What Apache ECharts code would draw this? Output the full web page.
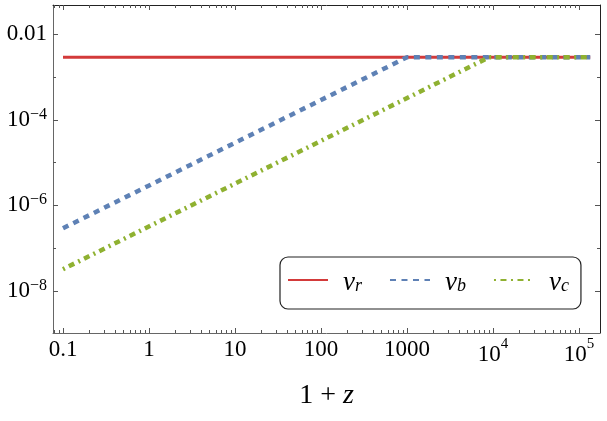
<!DOCTYPE html>
<html><head><meta charset="utf-8">
<script src="https://cdn.jsdelivr.net/npm/echarts@6/dist/echarts.min.js"></script>
<style>html,body{margin:0;padding:0;background:#fff}#c{width:607px;height:421px}</style>
</head><body><div id="c"></div>
<script>
// ---- data ----
const seriesNames = ['v_r', 'v_b', 'v_c'];
const xR = [0.1, 135000];
const vR = [0.0029, 0.0029];
const xB = [0.1, 1000, 135000];
const vB = [2.9e-7, 0.0029, 0.0029];
const xC = [0.1, 9000, 135000];
const vC = [3.2e-8, 0.0029, 0.0029];

const xTickVals = [0.1, 1, 10, 100, 1000, 1e4, 1e5];
const xTickLabels = ['0.1', '1', '10', '100', '1000', '10^4', '10^5'];
const yTickVals = [1e-8, 1e-6, 1e-4, 1e-2];
const yTickLabels = ['10^\u22128', '10^\u22126', '10^\u22124', '0.01'];
const yMinorVals = [1e-9, 1e-7, 1e-5, 1e-3];
const xRange = [0.0765, 1.754e5];
const yRange = [1.03e-9, 0.0484];
const colors = ['#D33A3A', '#5E81B5', '#8FB131'];

// ---- build ----
const xMinorVals = [];
for (let e = -2; e <= 5; e++) for (let k = 2; k <= 9; k++) {
  const v = k * Math.pow(10, e);
  if (v >= xRange[0] && v <= xRange[1]) xMinorVals.push(v);
}
const FONT = 'Liberation Serif';
function pick(vals, labels, v) {
  let best = 0, bd = Infinity;
  vals.forEach((t, i) => { const d = Math.abs(Math.log10(t) - Math.log10(v)); if (d < bd) { bd = d; best = i; } });
  return labels[best];
}
function fmt(l) {
  if (l.indexOf('^') >= 0) { const p = l.split('^'); return '{p|' + p[0] + '}{s|' + p[1] + '}'; }
  return '{b|' + l + '}';
}
const xRich = {
  b: { fontFamily: FONT, fontSize: 23, lineHeight: 26, color: '#000' },
  p: { fontFamily: FONT, fontSize: 23, lineHeight: 36, color: '#000' },
  s: { fontFamily: FONT, fontSize: 15, lineHeight: 22, verticalAlign: 'top', color: '#000' }
};
const yRich = {
  b: { fontFamily: FONT, fontSize: 23, lineHeight: 26, color: '#000' },
  p: { fontFamily: FONT, fontSize: 23, lineHeight: 26, color: '#000' },
  s: { fontFamily: FONT, fontSize: 16, lineHeight: 19, verticalAlign: 'top', color: '#000' }
};
const tickColor = '#555';
function xAxisDef(pos, major, lineColor) {
  return {
    type: 'log', logBase: 10, min: xRange[0], max: xRange[1], position: pos,
    axisLine: { show: major, lineStyle: { color: lineColor, width: 1 } },
    axisTick: { show: true, inside: true, length: major ? 5 : 3, customValues: major ? xTickVals : xMinorVals,
      lineStyle: { color: tickColor, width: 1 } },
    axisLabel: (major && pos === 'bottom') ? {
      show: true, customValues: xTickVals, margin: 4,
      formatter: v => fmt(pick(xTickVals, xTickLabels, v)), rich: xRich
    } : { show: false },
    splitLine: { show: false }, minorTick: { show: false }, minorSplitLine: { show: false }
  };
}
function yAxisDef(pos, major, lineColor) {
  return {
    type: 'log', logBase: 10, min: yRange[0], max: yRange[1], position: pos,
    axisLine: { show: major, lineStyle: { color: lineColor, width: 1 } },
    axisTick: { show: true, inside: true, length: major ? 5 : 3, customValues: major ? yTickVals : yMinorVals,
      lineStyle: { color: tickColor, width: 1 } },
    axisLabel: (major && pos === 'left') ? {
      show: true, customValues: yTickVals, margin: 6,
      formatter: v => fmt(pick(yTickVals, yTickLabels, v)), rich: yRich
    } : { show: false },
    splitLine: { show: false }, minorTick: { show: false }, minorSplitLine: { show: false }
  };
}
const xA = [xAxisDef('bottom', true, '#666'), xAxisDef('bottom', false, '#666'),
            xAxisDef('top', true, '#222'), xAxisDef('top', false, '#222')];
xA[0].name = '{n|1}{o|+}{z|z}';
xA[0].nameLocation = 'middle';
xA[0].nameGap = 48;
xA[0].nameTextStyle = { rich: {
  n: { fontFamily: FONT, fontSize: 28, lineHeight: 30, color: '#000' },
  o: { fontFamily: FONT, fontSize: 28, lineHeight: 30, color: '#000', padding: [0, 7, 0, 7] },
  z: { fontFamily: FONT, fontSize: 28, lineHeight: 30, color: '#000', fontStyle: 'italic' }
} };
const yA = [yAxisDef('left', true, '#666'), yAxisDef('left', false, '#666'),
            yAxisDef('right', true, '#222'), yAxisDef('right', false, '#222')];

function mk(name, xs, ys, color, width, type) {
  return {
    name, type: 'line', xAxisIndex: 0, yAxisIndex: 0, symbol: 'none', showSymbol: false,
    data: xs.map((x, i) => [x, ys[i]]),
    lineStyle: { color, width, type, cap: 'butt' }, itemStyle: { color },
    emphasis: { disabled: true }, animation: false
  };
}
const option = {
  animation: false,
  backgroundColor: '#fff',
  grid: { left: 53, top: 5, width: 547, height: 328, containLabel: false, outerBoundsMode: 'none' },
  xAxis: xA, yAxis: yA,
  legend: {
    left: 280, top: 257, orient: 'horizontal',
    padding: [7, 12, 13, 7],
    borderColor: '#222', borderWidth: 1.2, borderRadius: 8, backgroundColor: '#fff',
    itemWidth: 40, itemHeight: 14, itemGap: 27,
    itemStyle: { opacity: 0 },
    data: seriesNames,
    formatter: name => '{v|v}{s|' + name.split('_')[1] + '}',
    textStyle: { rich: {
      v: { fontFamily: FONT, fontSize: 27, fontStyle: 'italic', lineHeight: 30, color: '#000', padding: [5, 0, 0, 10] },
      s: { fontFamily: FONT, fontSize: 18, fontStyle: 'italic', lineHeight: 20, verticalAlign: 'bottom', color: '#000' }
    } }
  },
  series: [
    mk(seriesNames[0], xR, vR, colors[0], 3, 'solid'),
    mk(seriesNames[1], xB, vB, colors[1], 4.5, [6, 5.5]),
    mk(seriesNames[2], xC, vC, colors[2], 4.5, [2, 4.5, 6, 4.5])
  ]
};
const chart = echarts.init(document.getElementById('c'), null, { renderer: 'canvas' });
chart.setOption(option);
</script></body></html>
